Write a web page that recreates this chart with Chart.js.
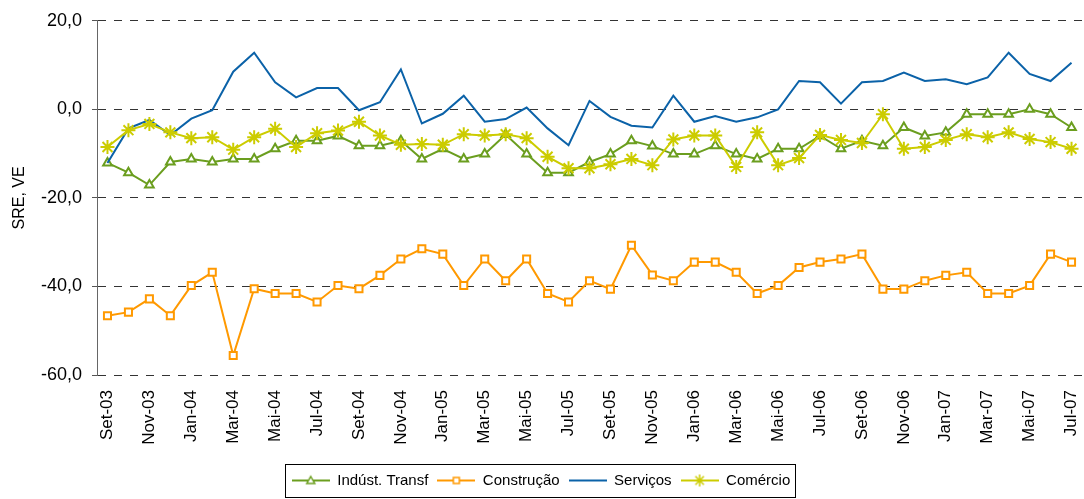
<!DOCTYPE html>
<html>
<head>
<meta charset="utf-8">
<title>SRE, VE</title>
<script src="https://cdn.jsdelivr.net/npm/chart.js"></script>
<style>
  html, body {
    margin: 0;
    padding: 0;
    background: #fff;
  }
  .chart-box {
    width: 1084px;
    height: 499px;
    position: relative;
  }
</style>
</head>
<body>
<div class="chart-box">
  <canvas id="chart"></canvas>
</div>
<script>
// months Set-03 .. Jul-07
const meses = [
  'Set-03','Out-03','Nov-03','Dez-03',
  'Jan-04','Fev-04','Mar-04','Abr-04','Mai-04','Jun-04','Jul-04','Ago-04','Set-04','Out-04','Nov-04','Dez-04',
  'Jan-05','Fev-05','Mar-05','Abr-05','Mai-05','Jun-05','Jul-05','Ago-05','Set-05','Out-05','Nov-05','Dez-05',
  'Jan-06','Fev-06','Mar-06','Abr-06','Mai-06','Jun-06','Jul-06','Ago-06','Set-06','Out-06','Nov-06','Dez-06',
  'Jan-07','Fev-07','Mar-07','Abr-07','Mai-07','Jun-07','Jul-07'
];

const industria = [
  -12.1, -14.3, -17.1, -11.9, -11.2, -11.9, -11.2, -11.2, -8.9, -7.1,
  -7.1, -6.0, -8.2, -8.2, -7.1, -11.2, -8.9, -11.2, -10.1, -5.7,
  -10.1, -14.3, -14.3, -11.9, -10.1, -7.1, -8.3, -10.1, -10.1, -8.2,
  -10.1, -11.2, -8.9, -8.9, -6.0, -8.9, -7.1, -8.2, -4.1, -6.0,
  -5.2, -1.1, -1.1, -1.1, 0.0, -1.1, -4.1
];

const construcao = [
  -46.6, -45.8, -42.8, -46.6, -39.8, -36.8, -55.6, -40.5, -41.6, -41.6,
  -43.5, -39.8, -40.5, -37.5, -33.8, -31.5, -32.7, -39.8, -33.8, -38.7,
  -33.8, -41.6, -43.5, -38.7, -40.6, -30.7, -37.4, -38.7, -34.5, -34.5,
  -36.8, -41.6, -39.8, -35.7, -34.5, -33.8, -32.7, -40.6, -40.6, -38.7,
  -37.5, -36.8, -41.6, -41.6, -39.8, -32.7, -34.5
];

const servicos = [
  -12.1, -4.3, -2.4, -5.8, -2.1, -0.2, 8.5, 12.8, 6.1, 2.7,
  4.8, 4.8, -0.2, 1.6, 9.0, -3.2, -1.0, 3.1, -2.8, -2.2,
  0.4, -4.3, -8.1, 1.9, -1.7, -3.7, -4.1, 3.1, -2.8, -1.5,
  -2.8, -1.8, 0.0, 6.4, 6.1, 1.3, 6.1, 6.4, 8.3, 6.4,
  6.8, 5.7, 7.2, 12.8, 8.0, 6.4, 10.5
];

const comercio = [
  -8.5, -4.7, -3.3, -5.2, -6.5, -6.3, -9.1, -6.3, -4.4, -8.5,
  -5.4, -4.8, -2.8, -5.9, -8.0, -7.8, -8.0, -5.6, -5.9, -5.6,
  -6.5, -10.7, -13.3, -13.3, -12.4, -11.2, -12.6, -6.8, -5.9, -5.9,
  -13.0, -5.2, -12.6, -11.0, -5.8, -6.9, -7.6, -1.1, -8.9, -8.5,
  -6.9, -5.6, -6.3, -5.2, -6.7, -7.4, -8.9
];

const yTicks = [-60, -40, -20, 0, 20];

const FONT = "'Liberation Sans', Arial, sans-serif";
const GREEN = '#6B9E1F';
const ORANGE = '#FF9900';
const BLUE = '#0B62A8';
const YELLOW = '#CCCC00';

// small picture for the legend: line with the marker in the middle
function legendIcon(color, style) {
  const c = document.createElement('canvas');
  c.width = 38;
  c.height = 14;
  const g = c.getContext('2d');
  g.strokeStyle = color;
  g.lineWidth = 2;
  g.beginPath();
  g.moveTo(0, 7);
  g.lineTo(38, 7);
  g.stroke();
  if (!style) return c;
  g.fillStyle = '#fff';
  g.lineWidth = 1.5;
  g.beginPath();
  if (style == 'rect') {
    g.rect(16, 4, 6, 6);
    g.fill();
    g.stroke();
  } else if (style == 'triangle') {
    g.moveTo(19, 3);
    g.lineTo(23, 10);
    g.lineTo(15, 10);
    g.closePath();
    g.fill();
    g.stroke();
  } else {
    for (let a = 0; a < 4; a++) {
      const ang = a * Math.PI / 4;
      g.moveTo(19 - 6 * Math.cos(ang), 7 - 6 * Math.sin(ang));
      g.lineTo(19 + 6 * Math.cos(ang), 7 + 6 * Math.sin(ang));
    }
    g.stroke();
  }
  return c;
}

const icons = [
  legendIcon(GREEN, 'triangle'),
  legendIcon(ORANGE, 'rect'),
  legendIcon(BLUE, null),
  legendIcon(YELLOW, 'star')
];

// box round the legend
const legendBorder = {
  id: 'legendBorder',
  afterDraw(chart) {
    const boxes = chart.legend.legendHitBoxes;
    if (!boxes || !boxes.length) return;
    const first = boxes[0];
    const last = boxes[boxes.length - 1];
    const x0 = Math.round(first.left - 7) + 0.5;
    const x1 = Math.round(last.left + last.width + 5) + 0.5;
    const y0 = Math.round(first.top - 9) + 0.5;
    const y1 = Math.round(first.top + first.height + 9) + 0.5;
    const ctx = chart.ctx;
    ctx.save();
    ctx.strokeStyle = '#000';
    ctx.lineWidth = 1;
    ctx.strokeRect(x0, y0, x1 - x0, y1 - y0);
    ctx.restore();
  }
};

const ctx = document.getElementById('chart').getContext('2d');
new Chart(ctx, {
  type: 'line',
  data: {
    labels: meses,
    datasets: [
      {
        label: 'Indúst. Transf',
        data: industria,
        borderColor: GREEN,
        backgroundColor: '#fff',
        borderWidth: 2,
        pointStyle: 'triangle',
        pointRadius: 5,
        pointBorderWidth: 2,
        pointBorderColor: GREEN,
        pointBackgroundColor: '#fff',
        order: 3
      },
      {
        label: 'Construção',
        data: construcao,
        borderColor: ORANGE,
        backgroundColor: '#fff',
        borderWidth: 2,
        pointStyle: 'rect',
        pointRadius: 5,
        pointBorderWidth: 2,
        pointBorderColor: ORANGE,
        pointBackgroundColor: '#fff',
        order: 2
      },
      {
        label: 'Serviços',
        data: servicos,
        borderColor: BLUE,
        backgroundColor: BLUE,
        borderWidth: 2,
        pointRadius: 0,
        order: 1
      },
      {
        label: 'Comércio',
        data: comercio,
        borderColor: YELLOW,
        backgroundColor: YELLOW,
        borderWidth: 2,
        pointStyle: 'star',
        pointRadius: 7,
        pointBorderWidth: 2,
        pointBorderColor: YELLOW,
        order: 0
      }
    ]
  },
  options: {
    responsive: true,
    maintainAspectRatio: false,
    animation: false,
    layout: {
      autoPadding: false,
      padding: { top: 17, right: 2, bottom: 1, left: 0 }
    },
    plugins: {
      tooltip: { enabled: false },
      legend: {
        position: 'bottom',
        labels: {
          font: { family: FONT, size: 15 },
          color: '#000',
          padding: 9,
          usePointStyle: true,
          pointStyleWidth: 38,
          generateLabels(chart) {
            return chart.data.datasets.map((ds, i) => ({
              text: ds.label,
              datasetIndex: i,
              pointStyle: icons[i],
              fillStyle: ds.borderColor,
              strokeStyle: ds.borderColor,
              lineWidth: 0,
              hidden: false,
              fontColor: '#000'
            }));
          }
        }
      }
    },
    scales: {
      x: {
        offset: true,
        afterFit(scale) {
          scale.height = 89;
          scale.paddingRight = 0;
          scale.paddingLeft = 0;
        },
        grid: { display: false },
        border: { display: false },
        ticks: {
          autoSkip: false,
          maxRotation: 90,
          minRotation: 90,
          padding: 7,
          color: '#000',
          font: { family: FONT, size: 17 },
          callback(v, i) { return i % 2 == 0 ? meses[i] : ''; }
        }
      },
      y: {
        min: -60,
        max: 20,
        afterFit(scale) { scale.width = 97; },
        afterBuildTicks(scale) {
          scale.ticks = yTicks.map(v => ({ value: v }));
        },
        grid: {
          color: '#333',
          lineWidth: 1,
          drawTicks: true,
          tickLength: 5,
          tickColor: '#555',
          tickBorderDash: []
        },
        border: { display: true, color: '#666', width: 1, dash: [8, 8] },
        ticks: {
          padding: 10,
          color: '#000',
          font: { family: FONT, size: 18 },
          callback(v) { return v.toFixed(1).replace('.', ','); }
        },
        title: {
          display: true,
          text: 'SRE, VE',
          color: '#000',
          font: { family: FONT, size: 16 },
          padding: { top: 10, bottom: 0 }
        }
      }
    }
  },
  plugins: [legendBorder]
});
</script>
</body>
</html>
